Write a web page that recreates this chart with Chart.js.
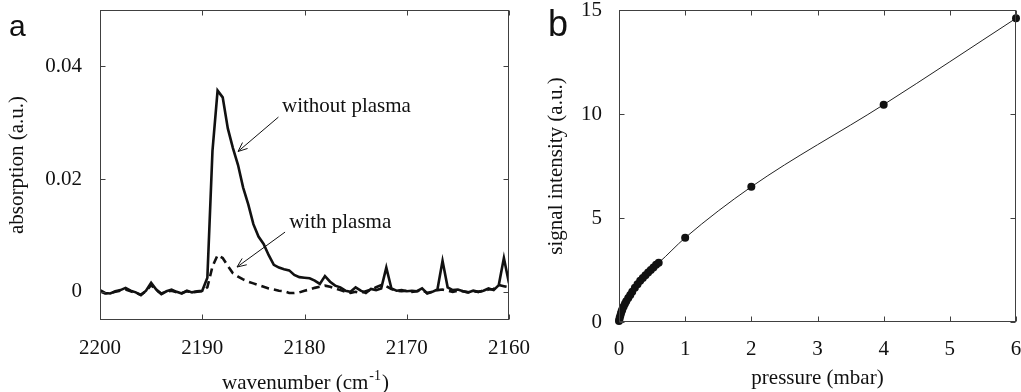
<!DOCTYPE html>
<html>
<head>
<meta charset="utf-8">
<script src="https://cdn.jsdelivr.net/npm/chart.js@4.4.0/dist/chart.umd.min.js"></script>
<style>
  body { margin: 0; background: #fff; }
  #wrap { position: relative; width: 1021px; height: 392px; overflow: hidden; }
  #boxA { position: absolute; left: 0; top: 0; width: 540px; height: 392px; }
  #boxB { position: absolute; left: 520px; top: 0; width: 501px; height: 392px; }
</style>
</head>
<body>
<div id="wrap">
  <div id="boxA"><canvas id="chartA" width="540" height="392"></canvas></div>
  <div id="boxB"><canvas id="chartB" width="501" height="392"></canvas></div>
</div>
<script>
// ---- panel a : absorption spectra ----
const wavenumber = [
  2200, 2199.5, 2199, 2198.5, 2198, 2197.5, 2197, 2196.5, 2196, 2195.5,
  2195, 2194.5, 2194, 2193.5, 2193, 2192.5, 2192, 2191.5, 2191, 2190.5,
  2190, 2189.5, 2189, 2188.5, 2188, 2187.5, 2187, 2186.5, 2186, 2185.5,
  2185, 2184.5, 2184, 2183.5, 2183, 2182.5, 2182, 2181.5, 2181, 2180.5,
  2180, 2179.5, 2179, 2178.5, 2178, 2177.5, 2177, 2176.5, 2176, 2175.5,
  2175, 2174.5, 2174, 2173.5, 2173, 2172.5, 2172, 2171.5, 2171, 2170.5,
  2170, 2169.5, 2169, 2168.5, 2168, 2167.5, 2167, 2166.5, 2166, 2165.5,
  2165, 2164.5, 2164, 2163.5, 2163, 2162.5, 2162, 2161.5, 2161, 2160.5,
  2160
];
const withoutPlasma = [
  0.0003, -0.0002, -0.0003, 0.0001, 0.0003, 0.0007, 0.0002, -0.0001, -0.0006, 0.0002,
  0.0016, 0.0004, -0.0004, 0.0001, 0.0004, 0.0000, -0.0003, 0.0002, -0.0001, 0.0001,
  0.0002, 0.0025, 0.0250, 0.0357, 0.0345, 0.0290, 0.0255, 0.0225, 0.0185, 0.0155,
  0.0120, 0.0098, 0.0085, 0.0065, 0.0048, 0.0043, 0.0040, 0.0038, 0.0030, 0.0026,
  0.0025, 0.0024, 0.0020, 0.0014, 0.0028, 0.0018, 0.0011, 0.0008, 0.0002, 0.0000,
  0.0008, 0.0002, -0.0002, 0.0005, 0.0003, 0.0006, 0.0043, 0.0006, 0.0002, 0.0003,
  0.0001, 0.0002, 0.0001, 0.0006, -0.0003, 0.0000, 0.0004, 0.0055, 0.0008, 0.0003,
  0.0004, 0.0001, -0.0001, 0.0002, 0.0000, 0.0002, 0.0006, 0.0003, 0.0012, 0.0060,
  0.0015
];
const withPlasma = [
  0.0001, -0.0003, -0.0002, 0.0000, 0.0002, 0.0004, 0.0001, -0.0002, -0.0005, 0.0001,
  0.0012, 0.0003, -0.0003, 0.0000, 0.0002, -0.0001, -0.0002, 0.0001, -0.0001, 0.0000,
  0.0001, 0.0008, 0.0045, 0.0065, 0.0060, 0.0046, 0.0033, 0.0027, 0.0022, 0.0018,
  0.0015, 0.0012, 0.0009, 0.0006, 0.0004, 0.0002, 0.0001, -0.0002, -0.0002, -0.0001,
  0.0002, 0.0004, 0.0007, 0.0009, 0.0011, 0.0009, 0.0006, 0.0003, 0.0000, -0.0002,
  0.0000, -0.0002, 0.0001, 0.0004, 0.0008, 0.0012, 0.0010, 0.0005, 0.0002, 0.0001,
  0.0002, 0.0000, 0.0001, 0.0003, -0.0002, 0.0000, 0.0003, 0.0004, 0.0002, 0.0000,
  0.0002, 0.0001, -0.0001, 0.0001, 0.0000, 0.0002, 0.0004, 0.0005, 0.0012, 0.0010,
  0.0008
];
const yTicksA = [0, 0.02, 0.04];
const yTickLabelsA = ['0', '0.02', '0.04'];

// ---- panel b : signal vs pressure ----
const pressure = [0, 0.005, 0.01, 0.02, 0.03, 0.04, 0.05, 0.07, 0.09, 0.11, 0.14, 0.17, 0.2,
  0.24, 0.28, 0.32, 0.36, 0.4, 0.44, 0.48, 0.52, 0.56, 0.6, 1, 2, 4, 6];
const signal = [0.05, 0.1, 0.2, 0.3, 0.42, 0.52, 0.6, 0.75, 0.88, 1.0, 1.15, 1.3, 1.45,
  1.65, 1.82, 1.98, 2.12, 2.25, 2.38, 2.5, 2.62, 2.75, 2.85, 4.05, 6.5, 10.45, 14.6];

// annotation labels of panel a (data coordinates)
const notes = [
  { text: 'without plasma', at: [2182.2, 0.0328], from: [2182.55, 0.0310], to: [2186.5, 0.0249] },
  { text: 'with plasma', at: [2181.5, 0.0123], from: [2181.9, 0.0106], to: [2186.6, 0.0044] }
];

const serif = "'Liberation Serif', 'Times New Roman', serif";
const ink = '#111';
const tickFont = { family: serif, size: 21, lineHeight: 1.0 };

function zip(xs, ys) {
  return xs.map((x, i) => ({ x: x, y: ys[i] }));
}

// fixed axis box size, no automatic label padding
function fixSize(w, h) {
  return s => {
    if (w) s.width = w;
    if (h) s.height = h;
    s.paddingTop = 0; s.paddingBottom = 0;
    s.paddingLeft = 0; s.paddingRight = 0;
  };
}

// frame box + inward ticks on all four sides, panel letter
function framePlugin(letter, letterX, letterSize) {
  return {
    id: 'frame',
    afterDraw(chart) {
      const { ctx, chartArea: a, scales } = chart;
      ctx.save();
      ctx.strokeStyle = '#404040';
      ctx.lineWidth = 1;
      const L = Math.round(a.left) + 0.5, R = Math.round(a.right) - 0.5;
      const T = Math.round(a.top) + 0.5, B = Math.round(a.bottom) - 0.5;
      ctx.strokeRect(L, T, R - L, B - T);
      ctx.beginPath();
      scales.x.ticks.forEach(t => {
        const px = Math.round(scales.x.getPixelForValue(t.value)) + 0.5;
        ctx.moveTo(px, B); ctx.lineTo(px, B - 5);
        ctx.moveTo(px, T); ctx.lineTo(px, T + 5);
      });
      scales.y.ticks.forEach(t => {
        const py = Math.round(scales.y.getPixelForValue(t.value)) + 0.5;
        ctx.moveTo(L, py); ctx.lineTo(L + 5, py);
        ctx.moveTo(R, py); ctx.lineTo(R - 5, py);
      });
      ctx.stroke();
      ctx.fillStyle = ink;
      ctx.font = letterSize + "px 'Liberation Sans', Arial, sans-serif";
      ctx.textBaseline = 'alphabetic';
      ctx.fillText(letter, letterX, 36);
      ctx.restore();
    }
  };
}

// arrows + texts, x-axis title with superscript for panel a
const notesPlugin = {
  id: 'notes',
  afterDraw(chart) {
    const { ctx, scales: { x, y }, chartArea: a } = chart;
    ctx.save();
    ctx.fillStyle = ink;
    ctx.strokeStyle = ink;
    ctx.lineWidth = 1;
    ctx.font = '21px ' + serif;
    ctx.textBaseline = 'middle';
    notes.forEach(n => {
      ctx.fillText(n.text, x.getPixelForValue(n.at[0]), y.getPixelForValue(n.at[1]));
      const x0 = x.getPixelForValue(n.from[0]), y0 = y.getPixelForValue(n.from[1]);
      const x1 = x.getPixelForValue(n.to[0]), y1 = y.getPixelForValue(n.to[1]);
      const ang = Math.atan2(y1 - y0, x1 - x0);
      ctx.beginPath();
      ctx.moveTo(x0, y0); ctx.lineTo(x1, y1);
      ctx.moveTo(x1 - 10 * Math.cos(ang - 0.4), y1 - 10 * Math.sin(ang - 0.4));
      ctx.lineTo(x1, y1);
      ctx.lineTo(x1 - 10 * Math.cos(ang + 0.4), y1 - 10 * Math.sin(ang + 0.4));
      ctx.stroke();
    });
    // x title: wavenumber (cm^-1)
    const main = 'wavenumber (cm', sup = '-1', close = ')';
    ctx.font = '21px ' + serif;
    const w1 = ctx.measureText(main).width, w3 = ctx.measureText(close).width;
    ctx.font = '14px ' + serif;
    const w2 = ctx.measureText(sup).width;
    let cx = (a.left + a.right) / 2 - (w1 + w2 + w3) / 2;
    const by = 389;
    ctx.textBaseline = 'alphabetic';
    ctx.font = '21px ' + serif;
    ctx.fillText(main, cx, by);
    ctx.font = '14px ' + serif;
    ctx.fillText(sup, cx + w1 + 1, by - 9);
    ctx.font = '21px ' + serif;
    ctx.fillText(close, cx + w1 + w2 + 2, by);
    ctx.restore();
  }
};

Chart.defaults.color = ink;
Chart.defaults.font.family = serif;

new Chart(document.getElementById('chartA'), {
  type: 'line',
  data: {
    datasets: [
      {
        label: 'without plasma',
        data: zip(wavenumber, withoutPlasma),
        borderColor: ink,
        borderWidth: 2.6,
        pointRadius: 0,
        tension: 0
      },
      {
        label: 'with plasma',
        data: zip(wavenumber, withPlasma),
        borderColor: ink,
        borderWidth: 2.6,
        borderDash: [8, 5],
        pointRadius: 0,
        tension: 0
      }
    ]
  },
  options: {
    responsive: false,
    animation: false,
    layout: { autoPadding: false, padding: { left: 0, top: 10, right: 31, bottom: 0 } },
    plugins: { legend: { display: false }, tooltip: { enabled: false } },
    scales: {
      x: {
        type: 'linear',
        reverse: true,
        min: 2160,
        max: 2200,
        grid: { display: false, drawTicks: false },
        border: { display: false },
        ticks: { stepSize: 10, font: tickFont, padding: 18, color: ink, callback: v => String(v) },
        afterFit: fixSize(0, 72)
      },
      y: {
        type: 'linear',
        min: -0.005,
        max: 0.05,
        grid: { display: false, drawTicks: false },
        border: { display: false },
        afterBuildTicks: s => { s.ticks = yTicksA.map(v => ({ value: v })); },
        ticks: {
          font: tickFont,
          padding: 18,
          color: ink,
          callback: v => yTickLabelsA[yTicksA.indexOf(v)]
        },
        title: {
          display: true,
          text: 'absorption (a.u.)',
          font: { family: serif, size: 21, lineHeight: 1.2 },
          color: ink,
          padding: { top: 5 }
        },
        afterFit: fixSize(100, 0)
      }
    }
  },
  plugins: [framePlugin('a', 9, 30), notesPlugin]
});

new Chart(document.getElementById('chartB'), {
  type: 'line',
  data: {
    datasets: [{
      label: 'signal',
      data: zip(pressure, signal),
      borderColor: '#222',
      borderWidth: 1,
      pointRadius: 4,
      pointBackgroundColor: ink,
      pointBorderColor: ink,
      pointBorderWidth: 0,
      cubicInterpolationMode: 'monotone',
      clip: false
    }]
  },
  options: {
    responsive: false,
    animation: false,
    layout: { autoPadding: false, padding: { left: 0, top: 10, right: 5, bottom: 0 } },
    plugins: { legend: { display: false }, tooltip: { enabled: false } },
    scales: {
      x: {
        type: 'linear',
        min: 0,
        max: 6,
        grid: { display: false, drawTicks: false },
        border: { display: false },
        ticks: { stepSize: 1, font: tickFont, padding: 17, color: ink },
        title: {
          display: true,
          text: 'pressure (mbar)',
          font: { family: serif, size: 21, lineHeight: 1.2 },
          color: ink,
          padding: { bottom: 1 }
        },
        afterFit: fixSize(0, 70)
      },
      y: {
        type: 'linear',
        min: 0,
        max: 15,
        grid: { display: false, drawTicks: false },
        border: { display: false },
        ticks: { stepSize: 5, font: tickFont, padding: 17, color: ink },
        title: {
          display: true,
          text: 'signal intensity (a.u.)',
          font: { family: serif, size: 21, lineHeight: 1.2 },
          color: ink,
          padding: { top: 24 }
        },
        afterFit: fixSize(99, 0)
      }
    }
  },
  plugins: [framePlugin('b', 28, 36)]
});
</script>
</body>
</html>
